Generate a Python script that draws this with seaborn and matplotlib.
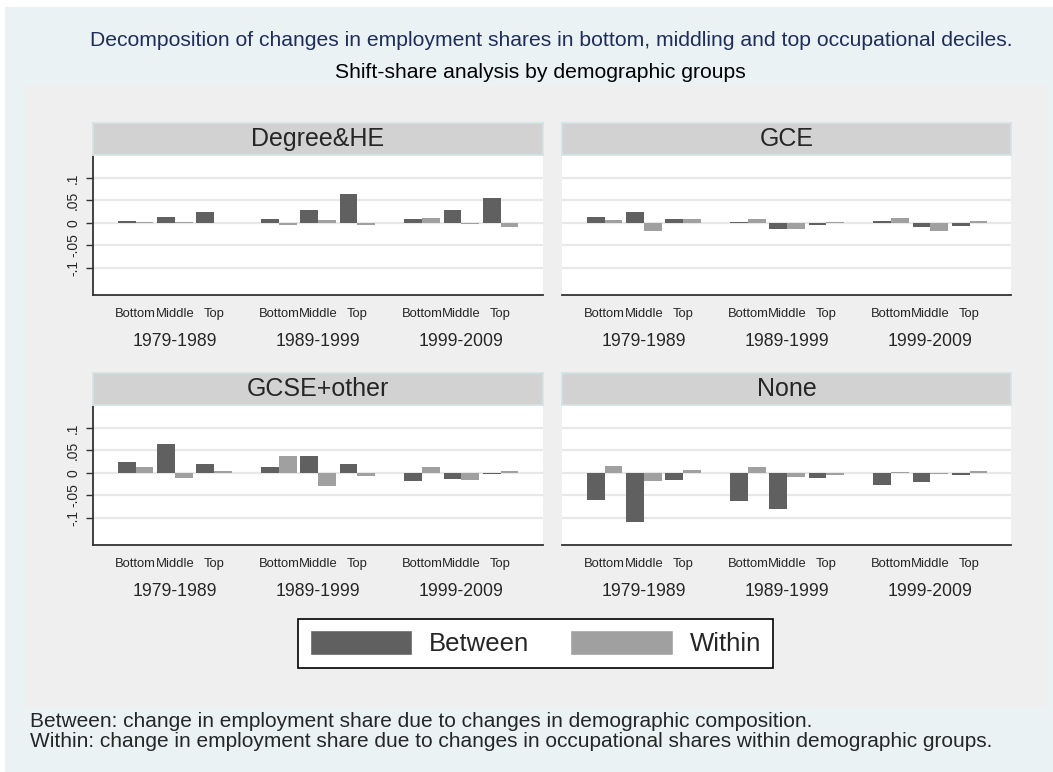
import numpy as np
import pandas as pd
import matplotlib
matplotlib.use("Agg")
import matplotlib.pyplot as plt
from matplotlib.patches import Rectangle, Patch
import seaborn as sns

# categories
groups = ["Degree&HE", "GCE", "GCSE+other", "None"]
periods = ["1979-1989", "1989-1999", "1999-2009"]
deciles = ["Bottom", "Middle", "Top"]
components = ["Between", "Within"]

# values per group, ordered period by period (Bottom, Middle, Top)
degree_between = [0.004, 0.012, 0.025, 0.008, 0.029, 0.065, 0.008, 0.028, 0.055]
degree_within = [0.0015, 0.0015, -0.001, -0.006, 0.006, -0.004, 0.010, -0.003, -0.010]
gce_between = [0.012, 0.024, 0.008, 0.002, -0.013, -0.006, 0.004, -0.010, -0.007]
gce_within = [0.006, -0.018, 0.008, 0.008, -0.013, 0.001, 0.010, -0.018, 0.004]
gcse_between = [0.024, 0.064, 0.019, 0.013, 0.037, 0.019, -0.018, -0.013, -0.002]
gcse_within = [0.013, -0.012, 0.003, 0.037, -0.030, -0.008, 0.013, -0.016, 0.005]
none_between = [-0.060, -0.110, -0.016, -0.063, -0.080, -0.011, -0.027, -0.021, -0.004]
none_within = [0.015, -0.019, 0.007, 0.013, -0.009, -0.004, 0.002, -0.003, 0.004]

series = {
    "Degree&HE": (degree_between, degree_within),
    "GCE": (gce_between, gce_within),
    "GCSE+other": (gcse_between, gcse_within),
    "None": (none_between, none_within),
}

period_step = 3.65  # distance between period groups, in decile slots

rows = []
for g in groups:
    for comp, vals in zip(components, series[g]):
        for k, v in enumerate(vals):
            pi, di = divmod(k, 3)
            rows.append({"group": g, "component": comp, "period": periods[pi],
                         "decile": deciles[di], "pos": pi * period_step + di,
                         "value": v})
df = pd.DataFrame(rows)

sns.set_theme(style="white")
plt.rcParams["font.family"] = ["Liberation Sans", "DejaVu Sans"]

W, H = 1053, 772
fig = plt.figure(figsize=(W / 100, H / 100), dpi=100, facecolor="white")


def fx(px):
    return px / W


def fy(py):
    return 1 - py / H


outer = "#eaf2f3"
inner = "#efefef"
dark = "#606060"
light = "#a0a0a0"

fig.patches.append(Rectangle((fx(5), 0), 1 - fx(5), fy(7), transform=fig.transFigure,
                             facecolor=outer, edgecolor="none", zorder=-3))
fig.patches.append(Rectangle((fx(25), fy(708)), fx(1047 - 25), (708 - 85) / H,
                             transform=fig.transFigure, facecolor=inner,
                             edgecolor="none", zorder=-2))

fig.text(fx(551), fy(41), "Decomposition of changes in employment shares in bottom, "
         "middling and top occupational deciles.", ha="center", va="center",
         fontsize=15.2, color="#1e2d5c")
fig.text(fx(540), fy(72), "Shift-share analysis by demographic groups",
         ha="center", va="center", fontsize=15.2, color="black")

col_x = [92.5, 561.5]
row_y = [155, 405]
pw, ph, sh = 450, 139.5, 32.3

tick_pos = [pi * period_step + di for pi in range(3) for di in range(3)]
tick_lab = deciles * 3
period_pos = [pi * period_step + 1 for pi in range(3)]

for i, g in enumerate(groups):
    r, c = divmod(i, 2)
    x0, y0 = col_x[c], row_y[r]
    ax = fig.add_axes([fx(x0), fy(y0 + ph), pw / W, ph / H])
    sub = df[df["group"] == g]
    sns.barplot(data=sub, x="pos", y="value", hue="component", hue_order=components,
                palette=[dark, light], native_scale=True, width=0.9, saturation=1,
                errorbar=None, linewidth=0, legend=False, ax=ax)
    ax.set_facecolor("white")
    ax.set_xlim(-1.1, 2 * period_step + 3.07)
    ax.set_ylim(-0.1603, 0.1516)
    ax.set_yticks([-0.1, -0.05, 0, 0.05, 0.1])
    ax.yaxis.grid(True, color="#e8e8e8", lw=1.6)
    ax.set_axisbelow(True)
    ax.set_xticks(tick_pos)
    ax.set_xticklabels(tick_lab, fontsize=9.4)
    ax.tick_params(axis="x", which="both", length=0, pad=10)
    for p, lab in zip(period_pos, periods):
        ax.text(p, -0.34, lab, transform=ax.get_xaxis_transform(), ha="center",
                va="center", fontsize=12.7)
    ax.set_xlabel("")
    ax.set_ylabel("")
    for s in ["top", "right"]:
        ax.spines[s].set_visible(False)
    ax.spines["bottom"].set_color("#333333")
    ax.spines["bottom"].set_linewidth(1.3)
    if c == 0:
        ax.spines["left"].set_color("#333333")
        ax.spines["left"].set_linewidth(1.3)
        ax.set_yticklabels(["-.1", "-.05", "0", ".05", ".1"], rotation=90,
                           va="center", fontsize=10)
        ax.tick_params(axis="y", length=5, width=1, color="#333333", pad=4, left=True)
    else:
        ax.spines["left"].set_visible(False)
        ax.tick_params(axis="y", length=0, labelleft=False)

    sax = fig.add_axes([fx(x0), fy(y0), pw / W, sh / H])
    sax.set_facecolor("#d2d2d2")
    sax.set_xticks([])
    sax.set_yticks([])
    for s in sax.spines.values():
        s.set_color("#d3e3e8")
        s.set_linewidth(1.2)
    sax.text(0.5, 0.5, g, ha="center", va="center", fontsize=18,
             transform=sax.transAxes)

handles = [Patch(facecolor=dark), Patch(facecolor=light)]
leg = fig.legend(handles, components, loc="center",
                 bbox_to_anchor=(fx(535.5), fy(643.4)), ncol=2, fontsize=18.5,
                 frameon=True, fancybox=False, edgecolor="black", framealpha=1,
                 handlelength=4.0, handleheight=1.1, handletextpad=0.65,
                 columnspacing=1.6, borderpad=0.45)
leg.get_frame().set_linewidth(1.2)

fig.text(fx(30), fy(721.5), "Between: change in employment share due to changes in "
         "demographic composition.", ha="left", va="center", fontsize=15)
fig.text(fx(30), fy(741.5), "Within: change in employment share due to changes in "
         "occupational shares within demographic groups.", ha="left", va="center",
         fontsize=15)

fig.savefig("out.png", dpi=100, facecolor=fig.get_facecolor())
